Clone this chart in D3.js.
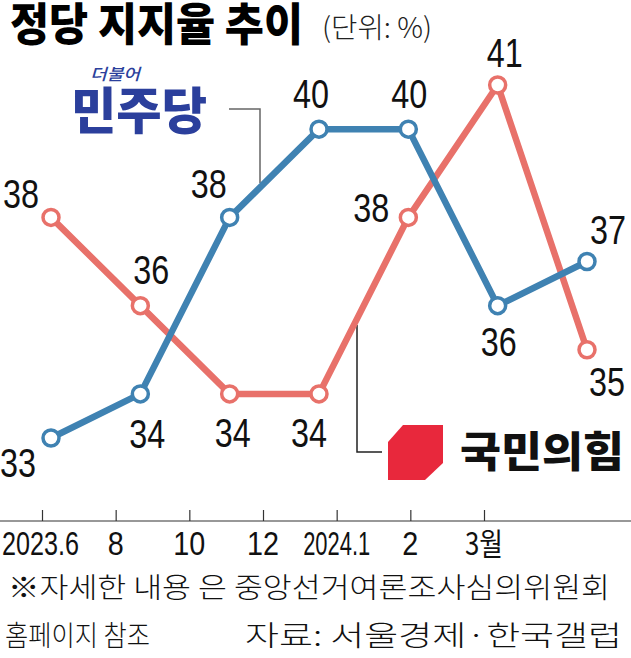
<!DOCTYPE html>
<html>
<head>
<meta charset="utf-8">
<script src="https://cdn.jsdelivr.net/npm/d3@7"></script>
<style>
  body { margin: 0; background: #fff; }
  svg { display: block; }
</style>
</head>
<body>
<svg id="chart" width="631" height="658"></svg>
<script>
// Data
var months = ["2023.6", "8", "10", "12", "2024.1", "2", "3월"];
var minju = [33, 34, 38, 40, 40, 36, 37];
var ppp = [38, 36, 34, 34, 38, 41, 35];

// label offsets from each marker (dx, dy of the text baseline centre)
var minjuLabelPos = [[-33, 39], [7, 54], [-21, -19], [-8, -21], [1, -21], [1, 50], [21, -18]];
var pppLabelPos = [[-30, -9], [11, -22], [3, 53], [-10, 53], [-37, 5], [7, -18], [20, 46]];

var blue = "#3f82b2";
var red = "#e8716a";
var numFont = "'Liberation Sans', Arial, sans-serif";
var krFont = "'Noto Sans CJK KR', 'Noto Sans', sans-serif";

var svg = d3.select("#chart");

// scales: markers are spaced wider than the axis ticks in the original graphic
var xPoint = d3.scalePoint().domain(months).range([51, 587]);
var xAxisScale = d3.scalePoint().domain(months).range([42, 484]);
var y = d3.scaleLinear().domain([33, 41]).range([438, 85]);

// Title
svg.append("text")
    .attr("x", 10).attr("y", 41)
    .attr("font-family", krFont).attr("font-weight", 900)
    .attr("font-size", 45)
    .attr("textLength", 293).attr("lengthAdjust", "spacingAndGlyphs")
    .text("정당 지지율 추이");

svg.append("text")
    .attr("x", 322).attr("y", 38)
    .attr("font-family", krFont).attr("font-weight", 300)
    .attr("font-size", 28).attr("fill", "#222")
    .attr("textLength", 110).attr("lengthAdjust", "spacingAndGlyphs")
    .text("(단위: %)");

// x axis
var axis = svg.append("g")
    .attr("transform", "translate(0,521)")
    .call(d3.axisTop(xAxisScale).tickSize(11).tickFormat(""));
axis.select(".domain").remove();
axis.selectAll(".tick line").attr("stroke", "#333").attr("stroke-width", 1.2);
svg.append("line")
    .attr("x1", 0).attr("x2", 631).attr("y1", 521).attr("y2", 521)
    .attr("stroke", "#333").attr("stroke-width", 1.2);

var tickWidths = { "2023.6": 77, "2024.1": 67, "3월": 38 };
svg.selectAll("text.month")
    .data(months)
    .enter().append("text")
    .attr("class", "month")
    .attr("x", function (d) { return d === "2023.6" ? 40.5 : xAxisScale(d); })
    .attr("y", 555)
    .attr("text-anchor", "middle")
    .attr("font-family", function (d) { return d === "3월" ? krFont : numFont; })
    .attr("font-size", function (d) { return d === "3월" ? 31 : 33; })
    .attr("textLength", function (d) { return tickWidths[d] || d.length * 16; })
    .attr("lengthAdjust", "spacingAndGlyphs")
    .attr("fill", "#111")
    .text(function (d) { return d; });

// Connector lines to the party legends
svg.append("path")
    .attr("d", "M229,109 H260 V183")
    .attr("fill", "none").attr("stroke", "#666").attr("stroke-width", 1.5);
svg.append("path")
    .attr("d", "M357,325 V452 H382")
    .attr("fill", "none").attr("stroke", "#222").attr("stroke-width", 1.5);

// Lines
var line = d3.line()
    .x(function (d, i) { return xPoint(months[i]); })
    .y(function (d) { return y(d); });

function drawSeries(values, color, labelPos) {
    svg.append("path")
        .datum(values)
        .attr("fill", "none")
        .attr("stroke", color)
        .attr("stroke-width", 6.5)
        .attr("stroke-linejoin", "round")
        .attr("d", line);

    svg.append("g").selectAll("circle")
        .data(values)
        .enter().append("circle")
        .attr("cx", function (d, i) { return xPoint(months[i]); })
        .attr("cy", function (d) { return y(d); })
        .attr("r", 8)
        .attr("fill", "#fff")
        .attr("stroke", color)
        .attr("stroke-width", 3.5);

    svg.append("g").selectAll("text")
        .data(values)
        .enter().append("text")
        .attr("x", function (d, i) { return xPoint(months[i]) + labelPos[i][0]; })
        .attr("y", function (d, i) { return y(d) + labelPos[i][1]; })
        .attr("text-anchor", "middle")
        .attr("font-family", numFont)
        .attr("font-size", 40)
        .attr("textLength", 36).attr("lengthAdjust", "spacingAndGlyphs")
        .attr("fill", "#111")
        .text(function (d) { return d; });
}

drawSeries(ppp, red, pppLabelPos);
drawSeries(minju, blue, minjuLabelPos);

// Legend: 더불어민주당
svg.append("text")
    .attr("x", 90).attr("y", 80)
    .attr("font-family", krFont).attr("font-weight", 500)
    .attr("font-size", 16).attr("fill", "#2b3f9c")
    .attr("font-style", "italic")
    .attr("textLength", 50).attr("lengthAdjust", "spacingAndGlyphs")
    .text("더불어");
svg.append("text")
    .attr("x", 71).attr("y", 129)
    .attr("font-family", krFont).attr("font-weight", 900)
    .attr("font-size", 50).attr("fill", "#2b3f9c")
    .attr("textLength", 136).attr("lengthAdjust", "spacingAndGlyphs")
    .text("민주당");

// Legend: 국민의힘
svg.append("path")
    .attr("d", "M388,442 L403,425 H443 V463 L425,480 H388 Z")
    .attr("fill", "#e8283c");
svg.append("text")
    .attr("x", 460).attr("y", 467)
    .attr("font-family", krFont).attr("font-weight", 900)
    .attr("font-size", 42).attr("fill", "#111")
    .attr("textLength", 164).attr("lengthAdjust", "spacingAndGlyphs")
    .text("국민의힘");

// Footer
svg.append("text")
    .attr("x", 8).attr("y", 598)
    .attr("font-family", krFont).attr("font-weight", 300)
    .attr("font-size", 28).attr("fill", "#111")
    .attr("textLength", 602).attr("lengthAdjust", "spacingAndGlyphs")
    .text("※자세한 내용 은 중앙선거여론조사심의위원회");
svg.append("text")
    .attr("x", 5).attr("y", 646)
    .attr("font-family", krFont).attr("font-weight", 300)
    .attr("font-size", 28).attr("fill", "#111")
    .attr("textLength", 145).attr("lengthAdjust", "spacingAndGlyphs")
    .text("홈페이지 참조");
svg.append("text")
    .attr("x", 245).attr("y", 646)
    .attr("font-family", krFont).attr("font-weight", 300)
    .attr("font-size", 28).attr("fill", "#111")
    .attr("textLength", 377).attr("lengthAdjust", "spacingAndGlyphs")
    .text("자료: 서울경제·한국갤럽");
</script>
</body>
</html>
